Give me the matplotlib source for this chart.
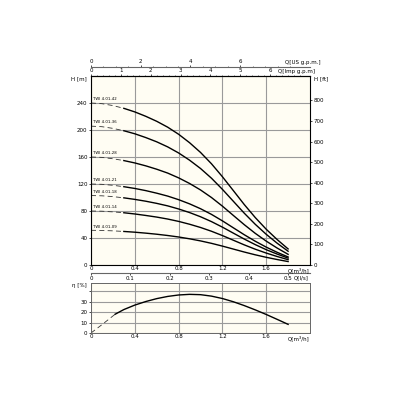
import matplotlib.pyplot as plt

# flow points [m3/h] for the head curves
q = [0.0, 0.1, 0.2, 0.3, 0.4, 0.5, 0.6, 0.7, 0.8, 0.9, 1.0,
     1.1, 1.2, 1.3, 1.4, 1.5, 1.6, 1.7, 1.8]

models = ['TWI 4.01-42', 'TWI 4.01-36', 'TWI 4.01-28', 'TWI 4.01-21',
          'TWI 4.01-18', 'TWI 4.01-14', 'TWI 4.01-09']
h42 = [240.0, 239.0, 236.2, 232.1, 226.8, 220.3, 212.9, 204.2, 193.7, 181.2,
       166.8, 150.0, 130.8, 110.2, 89.5, 70.3, 53.0, 37.7, 23.8]
h36 = [205.7, 204.9, 202.4, 198.9, 194.4, 188.8, 182.5, 175.0, 166.0, 155.3,
       143.0, 128.6, 112.1, 94.4, 76.7, 60.3, 45.5, 32.3, 20.4]
h28 = [160.0, 159.4, 157.4, 154.7, 151.2, 146.9, 141.9, 136.2, 129.1, 120.8,
       111.2, 100.0, 87.2, 73.4, 59.7, 46.9, 35.4, 25.1, 15.8]
h21 = [120.0, 119.5, 118.1, 116.0, 113.4, 110.2, 106.4, 102.1, 96.8, 90.6,
       83.4, 75.0, 65.4, 55.1, 44.8, 35.2, 26.5, 18.8, 11.9]
h18 = [102.9, 102.5, 101.3, 99.5, 97.2, 94.5, 91.3, 87.6, 83.0, 77.7,
       71.5, 64.3, 56.1, 47.2, 38.4, 30.2, 22.7, 16.2, 10.2]
h14 = [80.0, 79.7, 78.7, 77.4, 75.6, 73.4, 71.0, 68.1, 64.6, 60.4,
       55.6, 50.0, 43.6, 36.7, 29.8, 23.4, 17.7, 12.6, 7.9]
h09 = [51.4, 51.2, 50.6, 49.7, 48.6, 47.2, 45.6, 43.7, 41.5, 38.8,
       35.7, 32.1, 28.0, 23.6, 19.2, 15.1, 11.4, 8.1, 5.1]
heads = [h42, h36, h28, h21, h18, h14, h09]

# efficiency curve
q_eff = [0.0, 0.1, 0.22, 0.3, 0.4, 0.5, 0.6, 0.7, 0.8, 0.9, 1.0,
         1.1, 1.2, 1.3, 1.4, 1.5, 1.6, 1.7, 1.8]
eff = [0, 8, 18, 22.5, 26.8, 30.2, 33, 35.1, 36.5, 37.1, 36.8,
       35.4, 33.1, 30, 26.3, 22.2, 17.8, 13.1, 8.3]

bg = '#fffdf3'
gc = '#9a9a9a'
fs = 4

fig = plt.figure(figsize=(4, 4), dpi=100)

# ---- head chart ----
ax = fig.add_axes([0.2275, 0.3375, 0.5475, 0.4725])
ax.set_facecolor(bg)
ax.set_xlim(0, 2.0)
ax.set_ylim(0, 280)
ax.set_xticks([0, 0.4, 0.8, 1.2, 1.6])
ax.set_xticklabels(['0', '0.4', '0.8', '1.2', '1.6'])
ax.set_yticks([0, 40, 80, 120, 160, 200, 240])
ax.grid(True, color=gc, lw=0.8)
ax.tick_params(labelsize=fs, length=1.5, width=0.5, pad=1)
ax.tick_params(axis='x', length=0)
for s in ax.spines.values():
    s.set_color('#666666')
    s.set_linewidth(0.7)

for name, h in zip(models, heads):
    ax.plot(q[:4], h[:4], color='#333333', lw=0.6, dashes=(6, 4))
    ax.plot(q[3:], h[3:], color='black', lw=1.0, solid_joinstyle='round')
    ax.text(0.02, h[0] + 4, name, fontsize=2.8, color='black')

ax.text(-0.02, 0.985, 'H [m]', transform=ax.transAxes, fontsize=fs,
        ha='right', va='center')
ax.text(2.0, -0.014, 'Q[m³/h]', transform=ax.get_xaxis_transform(),
        fontsize=fs, ha='right', va='top')

# right axis in feet
ax2 = ax.twinx()
ax2.set_ylim(0, 280 * 3.2808)
ax2.set_yticks(range(0, 900, 100))
ax2.tick_params(labelsize=fs, length=1.5, width=0.5, pad=1)
ax2.text(1.02, 0.985, 'H [ft]', transform=ax2.transAxes, fontsize=fs,
         ha='left', va='center')

# top axes: Imp gpm and US gpm
imp = ax.secondary_xaxis('top', functions=(lambda x: x * 3.666, lambda x: x / 3.666))
imp.set_xticks([0, 1, 2, 3, 4, 5, 6])
imp.set_xticks([i * 0.2 for i in range(36)], minor=True)
imp.tick_params(labelsize=fs, length=1.5, width=0.5, pad=0.5)
imp.tick_params(which='minor', length=1, width=0.4)
ax.text(1.71, 1.012, 'Q[Imp g.p.m]', transform=ax.get_xaxis_transform(),
        fontsize=fs, ha='left', va='bottom')

us = ax.secondary_xaxis(1.048, functions=(lambda x: x * 4.403, lambda x: x / 4.403))
us.set_xticks([0, 2, 4, 6])
us.set_xticks([i * 0.5 for i in range(17)], minor=True)
us.tick_params(labelsize=fs, length=1.5, width=0.5, pad=0.5)
us.tick_params(which='minor', length=1, width=0.4)
us.spines['top'].set_color('#666666')
ax.text(1.77, 1.06, 'Q[US g.p.m.]', transform=ax.get_xaxis_transform(),
        fontsize=fs, ha='left', va='bottom')

# l/s axis below
ls = ax.secondary_xaxis(-0.042, functions=(lambda x: x / 3.6, lambda x: x * 3.6))
ls.set_xticks([0, 0.1, 0.2, 0.3, 0.4, 0.5])
ls.set_xticklabels(['0', '0.1', '0.2', '0.3', '0.4', '0.5'])
ls.tick_params(labelsize=fs, length=1.5, width=0.5, pad=0.5)
ls.spines['bottom'].set_color('#666666')
ax.text(1.99, -0.055, 'Q[l/s]', transform=ax.get_xaxis_transform(),
        fontsize=fs, ha='right', va='top')

# ---- efficiency chart ----
ax3 = fig.add_axes([0.2275, 0.1675, 0.5475, 0.125])
ax3.set_facecolor(bg)
ax3.set_xlim(0, 2.0)
ax3.set_ylim(0, 48)
ax3.set_xticks([0, 0.4, 0.8, 1.2, 1.6])
ax3.set_xticklabels(['0', '0.4', '0.8', '1.2', '1.6'])
ax3.set_yticks([0, 10, 20, 30, 40])
ax3.set_yticklabels(['0', '10', '20', '30', ''])
ax3.grid(True, color=gc, lw=0.8)
ax3.tick_params(labelsize=fs, length=1.5, width=0.5, pad=1)
ax3.tick_params(axis='x', length=0)
for s in ax3.spines.values():
    s.set_color('#666666')
    s.set_linewidth(0.7)
ax3.plot(q_eff[:3], eff[:3], color='#333333', lw=0.6, dashes=(6, 4))
ax3.plot(q_eff[2:], eff[2:], color='black', lw=1.0, solid_joinstyle='round')
ax3.text(-0.02, 0.96, 'η [%]', transform=ax3.transAxes, fontsize=fs,
         ha='right', va='center')
ax3.text(2.0, -0.05, 'Q[m³/h]', transform=ax3.get_xaxis_transform(),
         fontsize=fs, ha='right', va='top')

fig.savefig('out.png', dpi=100, facecolor='white')
